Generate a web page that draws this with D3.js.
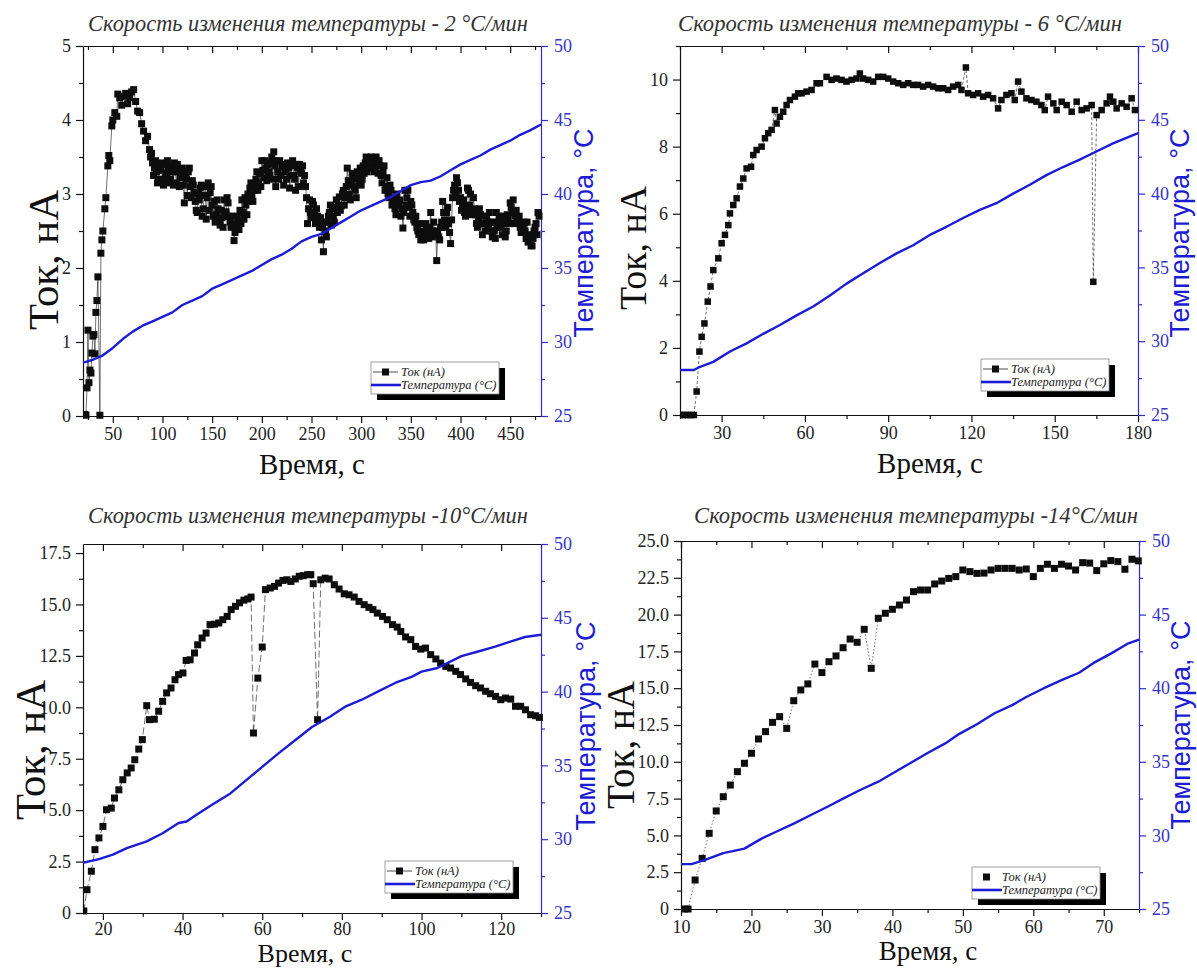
<!DOCTYPE html>
<html>
<head>
<meta charset="utf-8">
<script src="https://cdn.jsdelivr.net/npm/d3@7"></script>
<style>
  body { margin: 0; background: #fff; }
  .axis text { font-size: 18px; fill: #222; }
  .axis path, .axis line { stroke: #111; stroke-width: 1.2; }
  .axisR path, .axisR line { stroke: #2d2dcf; }
  .axisR text { fill: #3535c8; }
  .title { font-style: italic; fill: #333; }
  .legend text { font-style: italic; font-size: 12.5px; fill: #222; }
</style>
</head>
<body>
<svg id="fig" width="1197" height="968"></svg>
<script>
// ---- panel 1 : 2 °C/мин ----
const p1Current = [[22,0.02],[23,0.01],[24,0.38],[25,1.16],[26,0.45],[27,0.62],[28,0.58],[29,0.85],[30,1.08],[31,1.1],[32,0.84],[33,1.4],[34,1.56],[35,1.88],[37,0.01],[38,2.2],[39,2.38],[40,2.5],[42,2.8],[43,2.95],[45,3.38],[46,3.52],[47,3.45],[49,3.92],[50,4.0],[52,4.1],[54,4.05],[55,4.35],[57,4.3],[59,4.2],[61,4.32],[63,4.36],[65,4.22],[67,4.3],[69,4.38],[71,4.41],[73,4.25],[75,4.12],[77,4.1],[79,3.95],[81,3.85],[83,3.72],[85,3.78],[87,3.6],[88,3.5],[90,3.42],[92,3.35],[94,3.3],[96,3.2],[98,3.32],[100,3.18],[102,3.4],[104,3.28],[106,3.36],[108,3.2],[110,3.3],[112,3.42],[114,3.15],[116,3.32],[118,3.22],[120,3.35],[122,2.88],[124,3.2],[126,3.3],[128,3.1],[130,3.18],[132,3.02],[134,2.78],[136,3.0],[138,3.08],[140,2.7],[142,2.98],[144,2.66],[146,3.15],[148,3.02],[150,2.85],[152,2.9],[154,2.72],[156,2.8],[158,2.58],[160,2.68],[162,2.92],[164,2.76],[166,2.88],[168,2.62],[170,2.7],[172,2.37],[174,2.55],[176,2.62],[178,2.78],[180,2.92],[182,2.66],[184,2.85],[186,3.0],[188,3.08],[190,2.98],[192,3.12],[194,3.2],[196,3.05],[198,3.28],[200,3.45],[202,3.22],[204,3.35],[206,3.4],[208,3.25],[210,3.5],[212,3.57],[214,3.1],[216,3.3],[218,3.45],[220,3.38],[222,3.12],[224,3.3],[226,3.42],[228,3.08],[230,3.38],[232,3.25],[234,3.05],[236,3.35],[238,3.4],[240,3.28],[242,3.15],[244,3.1],[246,2.6],[248,2.92],[250,2.68],[252,2.85],[254,2.6],[256,2.7],[258,2.55],[260,2.38],[262,2.22],[264,2.5],[266,2.62],[268,2.75],[270,2.58],[272,2.7],[274,2.82],[276,2.75],[278,2.96],[280,2.84],[282,3.05],[284,2.95],[286,3.35],[288,3.0],[290,3.12],[292,3.2],[294,3.05],[296,3.3],[298,3.15],[300,3.12],[302,3.38],[304,3.42],[306,3.3],[308,3.48],[310,3.5],[312,3.42],[314,3.35],[316,3.4],[318,3.45],[320,3.25],[322,3.3],[324,3.05],[326,3.22],[328,2.95],[330,3.05],[332,2.9],[334,2.8],[336,3.0],[338,2.85],[340,2.7],[342,2.54],[344,3.05],[346,2.95],[348,2.82],[350,2.9],[352,2.75],[354,2.62],[356,2.55],[358,2.45],[360,2.38],[362,2.5],[364,2.45],[366,2.52],[368,2.4],[370,2.75],[372,2.5],[374,2.45],[376,2.1],[378,2.42],[380,2.55],[382,2.9],[384,2.65],[386,2.75],[388,2.6],[390,2.33],[392,2.95],[394,3.12],[396,3.22],[398,3.05],[400,2.95],[402,2.85],[404,2.75],[406,2.8],[408,3.05],[410,3.0],[412,2.72],[414,2.8],[416,2.6],[418,2.68],[420,2.72],[422,2.45],[424,2.6],[426,2.7],[428,2.55],[430,2.62],[432,2.42],[434,2.5],[436,2.75],[438,2.62],[440,2.55],[442,2.45],[444,2.6],[446,2.5],[448,2.66],[450,2.88],[452,2.75],[454,2.6],[456,2.78],[458,2.65],[460,2.55],[462,2.5],[464,2.62],[466,2.4],[468,2.35],[470,2.45],[472,2.3],[474,2.5],[476,2.6],[478,2.75]];
// odd-second readings inside the dense cloud
const p1CurrentOdd = [[89,3.55],[91,3.25],[93,3.45],[95,3.15],[97,3.38],[99,3.42],[101,3.12],[103,3.22],[105,3.45],[107,3.15],[109,3.38],[111,3.12],[113,3.3],[115,3.4],[117,3.1],[119,3.28],[121,3.12],[123,3.25],[125,2.98],[127,3.35],[129,2.95],[131,3.12],[133,2.9],[135,2.75],[137,2.92],[139,3.12],[141,2.8],[143,3.1],[145,2.95],[147,2.78],[149,3.1],[151,2.7],[153,2.62],[155,2.92],[157,2.66],[159,2.78],[161,2.55],[163,2.7],[165,2.95],[167,2.7],[169,2.55],[171,2.6],[173,2.48],[175,2.7],[177,2.52],[179,2.6],[181,2.75],[183,2.95],[185,2.72],[187,2.9],[189,3.15],[191,2.9],[193,3.05],[195,3.3],[197,3.15],[199,3.1],[201,3.32],[203,3.45],[205,3.18],[207,3.3],[209,3.42],[211,3.2],[213,3.38],[215,3.45],[217,3.2],[219,3.25],[221,3.4],[223,3.35],[225,3.2],[227,3.35],[229,3.25],[231,3.45],[233,3.2],[235,3.4],[237,3.1],[239,3.3],[241,3.38],[243,3.25],[245,2.95],[247,2.8],[249,2.75],[251,2.9],[253,2.72],[255,2.8],[257,2.62],[259,2.68],[261,2.55],[263,2.62],[265,2.42],[267,2.7],[269,2.85],[271,2.8],[273,2.62],[275,2.92],[277,2.85],[279,2.78],[281,3.0],[283,2.85],[285,3.1],[287,3.18],[289,2.92],[291,3.28],[293,3.1],[295,2.95],[297,3.22],[299,3.35],[301,3.2],[303,3.28],[305,3.5],[307,3.38],[309,3.35],[311,3.46],[313,3.3],[315,3.5],[317,3.28],[319,3.38],[321,3.15],[323,3.38],[325,3.1],[327,3.0],[329,3.12],[331,2.85],[333,2.95],[335,2.72],[337,2.88],[339,2.92],[341,2.8],[343,2.75],[345,2.85],[347,3.05],[349,2.7],[351,2.85],[353,2.65],[355,2.7],[357,2.5],[359,2.6],[361,2.45],[363,2.38],[365,2.6],[367,2.45],[369,2.55],[371,2.42],[373,2.62],[375,2.48],[377,2.5],[379,2.38],[381,2.62],[383,2.75],[385,2.55],[387,2.82],[389,2.48],[391,2.65],[393,3.05],[395,2.98],[397,3.15],[399,2.9],[401,2.78],[403,2.92],[405,2.7],[407,3.08],[409,2.85],[411,2.78],[413,2.95],[415,2.72],[417,2.55],[419,2.8],[421,2.6],[423,2.7],[425,2.5],[427,2.6],[429,2.75],[431,2.5],[433,2.62],[435,2.4],[437,2.55],[439,2.7],[441,2.62],[443,2.7],[445,2.42],[447,2.72],[449,2.6],[451,2.82],[453,2.92],[455,2.7],[457,2.62],[459,2.7],[461,2.48],[463,2.58],[465,2.5],[467,2.62],[469,2.42],[471,2.3],[473,2.4],[475,2.55],[477,2.45],[479,2.7]];
const p1Temp = [[20,28.6],[30,28.8],[40,29.1],[50,29.6],[60,30.2],[70,30.7],[80,31.1],[90,31.4],[100,31.7],[110,32.0],[120,32.5],[130,32.8],[140,33.1],[150,33.6],[160,33.9],[170,34.2],[180,34.5],[190,34.8],[200,35.2],[210,35.6],[220,35.9],[230,36.3],[240,36.8],[250,37.1],[260,37.3],[270,37.7],[280,38.1],[290,38.5],[300,38.9],[310,39.2],[320,39.5],[330,39.8],[340,40.2],[350,40.6],[360,40.8],[370,40.9],[380,41.2],[390,41.6],[400,42.0],[410,42.3],[420,42.6],[430,43.0],[440,43.3],[450,43.6],[460,44.0],[470,44.3],[481,44.7]];
const p1XTicks = [50, 100, 150, 200, 250, 300, 350, 400, 450];
const p1YTicks = [0, 1, 2, 3, 4, 5];

// ---- panel 2 : 6 °C/мин ----
const p2Current = [[15,0],[16,0],[17,0],[18,0],[19,0],[20,0],[21,0.7],[22,1.89],[22.8,2.33],[23.8,2.73],[25,3.38],[26,3.83],[27,4.32],[28.8,4.67],[30,5.12],[31.2,5.37],[32.4,5.66],[33,6.01],[34.2,6.26],[35.4,6.46],[36.6,6.81],[37.8,7.05],[39,7.35],[40.6,7.4],[41.4,7.75],[42.6,7.9],[44.4,8.0],[45.6,8.25],[46.8,8.4],[48,8.5],[49.2,9.09],[49.8,8.69],[51,8.89],[52.2,9.04],[53.4,9.24],[54.6,9.39],[56.4,9.49],[57.6,9.59],[58.8,9.59],[60.6,9.64],[62.4,9.69],[64.2,9.89],[65.4,9.89],[67.8,10.08],[69.6,9.99],[71.4,10.03],[73.2,9.99],[75,9.94],[76.8,9.99],[78.6,10.03],[79.8,10.18],[81,10.03],[82.8,9.99],[84.6,9.94],[86.4,10.08],[88.2,10.08],[90,10.03],[91.8,9.94],[93.6,9.89],[95.4,9.84],[97.2,9.89],[99,9.84],[100.8,9.84],[102.6,9.79],[104.4,9.84],[106.2,9.79],[108,9.74],[109.8,9.74],[111.6,9.69],[113.4,9.79],[115.2,9.84],[116.4,9.69],[118,10.36],[118.8,9.59],[120.6,9.54],[122.4,9.59],[124.2,9.49],[126,9.54],[127.8,9.44],[129.6,9.14],[130.8,9.39],[132.6,9.54],[134.4,9.59],[135.6,9.39],[136.8,9.94],[138,9.64],[139.8,9.44],[141.6,9.39],[143.4,9.34],[145.2,9.24],[146.4,9.09],[147.6,9.49],[149.5,9.29],[150.7,9.09],[152.5,9.34],[154.3,9.24],[156.1,9.04],[157.9,9.34],[159.7,9.09],[161.5,9.14],[163.3,9.24],[163.9,3.97],[165.1,8.94],[166.9,9.09],[168.7,9.29],[169.9,9.49],[171.1,9.34],[172.3,9.14],[174.1,9.29],[175.9,9.19],[177.7,9.44],[178.9,9.09]];
const p2Temp = [[15,28.05],[20,28.05],[22,28.25],[27,28.6],[33,29.3],[39,29.85],[45,30.5],[51,31.1],[57,31.75],[63,32.35],[69,33.1],[75,33.9],[81,34.6],[87,35.3],[93,35.95],[99,36.5],[105,37.2],[111,37.75],[117,38.35],[123,38.9],[129,39.35],[135,40.0],[141,40.6],[147,41.25],[153,41.8],[159,42.3],[165,42.85],[171,43.4],[180,44.1]];
const p2XTicks = [30, 60, 90, 120, 150, 180];
const p2YTicks = [0, 2, 4, 6, 8, 10];

// ---- panel 3 : 10 °C/мин ----
const p3Current = [[15.2,0.1],[16,1.13],[17.1,2.03],[18,3.08],[19,3.65],[20,4.21],[20.9,5.02],[22.1,5.1],[22.9,5.59],[24,5.99],[25,6.48],[26.1,6.81],[27.1,7.05],[28,7.45],[29,7.97],[29.9,8.43],[31,10.08],[31.7,9.4],[32.9,9.42],[34,9.81],[35,10.29],[36,10.7],[37.1,10.94],[38.1,11.34],[39,11.59],[40.1,11.67],[40.9,12.28],[41.9,12.31],[43,12.64],[43.8,13.04],[44.9,13.37],[45.9,13.61],[46.9,14.02],[48,14.04],[49.1,14.1],[50.1,14.26],[51.2,14.42],[52.2,14.75],[53.3,14.91],[54.3,15.08],[55.4,15.21],[56.4,15.27],[57.2,15.36],[57.8,8.75],[58.9,11.42],[60,12.93],[60.8,15.72],[62,15.8],[63.1,15.88],[64.1,16.04],[65.2,16.17],[66.2,16.2],[67.2,16.12],[68.3,16.24],[69.3,16.37],[70.3,16.4],[71.4,16.45],[72.2,16.45],[72.8,16.01],[73.9,9.4],[74.7,16.2],[75.8,16.28],[76.8,16.24],[78.1,15.96],[79.3,15.75],[80.6,15.52],[81.8,15.47],[83.1,15.36],[84.3,15.15],[85.6,14.99],[86.8,14.86],[87.8,14.75],[88.9,14.58],[90.2,14.42],[91.4,14.26],[92.7,14.02],[93.9,13.9],[94.8,13.69],[96,13.42],[97.3,13.29],[98.5,12.96],[99.8,12.83],[101,12.88],[102.3,12.56],[103.6,12.35],[104.8,12.15],[106.1,11.99],[107.3,11.91],[108.6,11.75],[109.8,11.59],[111.1,11.38],[112.3,11.21],[113.6,11.05],[114.8,10.94],[116.1,10.78],[117.3,10.66],[118.6,10.53],[119.9,10.37],[121.1,10.45],[122.4,10.4],[123.6,10.05],[124.9,10.05],[126.1,9.88],[127.4,9.64],[128.6,9.59],[129.6,9.51]];
const p3Temp = [[15,28.4],[19,28.65],[22.5,28.95],[26,29.4],[31,29.85],[35,30.4],[39,31.1],[41,31.2],[43.5,31.65],[47.5,32.35],[52,33.1],[56,34.0],[60,34.9],[64,35.8],[68.5,36.75],[72.5,37.6],[77,38.3],[81,39.0],[85,39.45],[89,40.0],[93.5,40.6],[97.5,41.0],[100,41.35],[104,41.6],[110,42.4],[114,42.7],[118.5,43.05],[122.5,43.4],[126,43.7],[130,43.85]];
const p3XTicks = [20, 40, 60, 80, 100, 120];
const p3YTicks = [0, 2.5, 5, 7.5, 10, 12.5, 15, 17.5];

// ---- panel 4 : 14 °C/мин ----
const p4Current = [[10.5,0],[11,0],[12,1.97],[13,3.44],[14,5.14],[15,6.66],[16,7.63],[17,8.42],[18,9.33],[19,9.9],[20,10.58],[21,11.55],[22,12.05],[23,12.68],[24,13.07],[25,12.27],[26,14.15],[27,14.88],[28,15.29],[29,16.64],[30,16.06],[31,16.8],[32,17.19],[33,17.75],[34,18.34],[35,18.12],[36,19.0],[37,16.35],[38,19.75],[39,20.09],[40,20.36],[41,20.65],[42,20.99],[43,21.56],[44,21.67],[45,21.67],[46,22.08],[47,22.28],[48,22.46],[49,22.58],[50,23.03],[51,22.92],[52,22.8],[53,22.82],[54,23.03],[55,23.14],[56,23.14],[57,23.14],[58,23.03],[59,23.1],[60,22.58],[61,23.14],[62,23.42],[63,23.14],[64,23.42],[65,23.3],[66,23.03],[67,23.53],[68,23.5],[69,22.99],[70,23.45],[71,23.67],[72,23.6],[73,23.08],[74,23.76],[74.9,23.65]];
const p4Temp = [[10,28.05],[11.5,28.05],[13.5,28.35],[16,28.8],[19,29.1],[21.5,29.8],[23.5,30.25],[26,30.8],[28.5,31.4],[31,32.0],[33,32.5],[35.5,33.1],[38,33.65],[40,34.2],[42.5,34.9],[45,35.6],[47.5,36.25],[49.5,36.9],[52,37.55],[54.5,38.3],[57,38.85],[59,39.4],[61.5,40.0],[64,40.55],[66.5,41.05],[68.5,41.7],[71,42.35],[73.5,43.05],[75,43.3]];
const p4XTicks = [10, 20, 30, 40, 50, 60, 70];
const p4YTicks = [0, 2.5, 5, 7.5, 10, 12.5, 15, 17.5, 20, 22.5, 25];

const tempTicks = [25, 30, 35, 40, 45, 50];
const titles = [
  "Скорость изменения температуры - 2 °C/мин",
  "Скорость изменения температуры - 6 °C/мин",
  "Скорость изменения температуры -10°C/мин",
  "Скорость изменения температуры -14°C/мин"
];
const legendLabels = ["Ток (нА)", "Температура (°C)"];

const SERIF = "'Liberation Serif', 'Times New Roman', serif";
const SANS = "'Liberation Sans', Arial, sans-serif";
const BLUE = "#1c1cd4";
const svg = d3.select("#fig");
svg.append("rect").attr("width", 1197).attr("height", 968).attr("fill", "#fff");

const fmt1 = d => d === 0 ? "0" : d3.format(".1f")(d);

const panels = [
  { id: 1, left: 83, right: 541, top: 46, bottom: 416, xDomain: [20, 481], xTicks: p1XTicks, xMinorStep: 25,
    yDomain: [0, 5], yTicks: p1YTicks, yMinorStep: 0.5, yFmt: d3.format("d"),
    current: d3.sort(p1Current.concat(p1CurrentOdd), d => d[0]), temp: p1Temp,
    title: titles[0], titleX: 308, titleY: 31, titleW: 440,
    marker: 7, dash: null, legend: { x: 371, y: 362 }, legendLine: true, xPad: 4,
    yLab: { x: 43, y: 260, len: 140 }, xLab: { x: 312, y: 474, size: 29 }, tLab: { x: 584, y: 233 } },
  { id: 2, left: 680, right: 1138, top: 46, bottom: 415, xDomain: [15, 180], xTicks: p2XTicks, xMinorStep: 15,
    yDomain: [0, 11], yTicks: p2YTicks, yMinorStep: 1, yFmt: d3.format("d"),
    current: p2Current, temp: p2Temp, title: titles[1], titleX: 900, titleY: 31, titleW: 444,
    marker: 6.5, dash: "3,2", legend: { x: 981, y: 359 }, legendLine: true, xPad: 4,
    yLab: { x: 633, y: 248, len: 124 }, xLab: { x: 930, y: 473, size: 29 }, tLab: { x: 1180, y: 233 },
    ghost: { x: 600, y: 213 } },
  { id: 3, left: 83, right: 541, top: 544, bottom: 913, xDomain: [15, 130], xTicks: p3XTicks, xMinorStep: 10,
    yDomain: [0, 17.94], yTicks: p3YTicks, yMinorStep: 1.25, yFmt: fmt1,
    current: p3Current, temp: p3Temp, title: titles[2], titleX: 308, titleY: 523, titleW: 440,
    marker: 7, dash: "7,3", legend: { x: 385, y: 861 }, legendLine: true, xPad: 2,
    yLab: { x: 30, y: 750, len: 140 }, xLab: { x: 305, y: 962, size: 26 }, tLab: { x: 586, y: 726 } },
  { id: 4, left: 681, right: 1139, top: 541, bottom: 909, xDomain: [10, 75], xTicks: p4XTicks, xMinorStep: 5,
    yDomain: [0, 25], yTicks: p4YTicks, yMinorStep: 1.25, yFmt: fmt1,
    current: p4Current, temp: p4Temp, title: titles[3], titleX: 916, titleY: 523, titleW: 444,
    marker: 7, dash: "1.5,2", legend: { x: 972, y: 867 }, legendLine: false, xPad: 4,
    yLab: { x: 620, y: 745, len: 128 }, xLab: { x: 928, y: 960, size: 27 }, tLab: { x: 1181, y: 725 },
    ghost: { x: 600, y: 700 } }
];

function minorTicks(domain, step, majors) {
  const out = [];
  const start = Math.ceil(domain[0] / step) * step;
  for (let v = start; v <= domain[1] + 1e-9; v += step) {
    const r = Math.round(v * 1000) / 1000;
    if (!majors.some(m => Math.abs(m - r) < 1e-6)) out.push(r);
  }
  return out;
}

function fitWidth(sel, target) {
  const len = sel.node().getComputedTextLength();
  const fs = parseFloat(sel.attr("font-size"));
  sel.attr("font-size", (fs * target / len).toFixed(2));
}

const serifTicks = a => a.selectAll("text").style("font-family", SERIF);

function drawPanel(cfg) {
  const g = svg.append("g").attr("class", "panel" + cfg.id);
  const x = d3.scaleLinear().domain(cfg.xDomain).range([cfg.left, cfg.right]);
  const y = d3.scaleLinear().domain(cfg.yDomain).range([cfg.bottom, cfg.top]);
  const yT = d3.scaleLinear().domain([25, 50]).range([cfg.bottom, cfg.top]);

  const clipId = "clip" + cfg.id;
  g.append("clipPath").attr("id", clipId).append("rect")
    .attr("x", cfg.left).attr("y", cfg.top - 4)
    .attr("width", cfg.right - cfg.left + 4).attr("height", cfg.bottom - cfg.top + 8);

  const xMinor = minorTicks(cfg.xDomain, cfg.xMinorStep, cfg.xTicks);
  const yMinor = minorTicks(cfg.yDomain, cfg.yMinorStep, cfg.yTicks);
  const tMinor = minorTicks([25, 50], 2.5, tempTicks);

  // bottom axis
  g.append("g").attr("class", "axis").attr("transform", `translate(0,${cfg.bottom})`)
    .call(d3.axisBottom(x).tickValues(xMinor).tickSize(4).tickFormat(""))
    .call(a => a.select(".domain").remove());
  g.append("g").attr("class", "axis").attr("transform", `translate(0,${cfg.bottom})`)
    .call(d3.axisBottom(x).tickValues(cfg.xTicks).tickSize(7).tickSizeOuter(0).tickPadding(cfg.xPad))
    .call(serifTicks);

  // top frame with inward ticks
  g.append("g").attr("class", "axis").attr("transform", `translate(0,${cfg.top})`)
    .call(d3.axisTop(x).tickValues(xMinor).tickSize(-4).tickFormat(""))
    .call(a => a.select(".domain").remove());
  g.append("g").attr("class", "axis").attr("transform", `translate(0,${cfg.top})`)
    .call(d3.axisTop(x).tickValues(cfg.xTicks).tickSize(-7).tickSizeOuter(0).tickFormat(""));

  // left axis
  g.append("g").attr("class", "axis").attr("transform", `translate(${cfg.left},0)`)
    .call(d3.axisLeft(y).tickValues(yMinor).tickSize(4).tickFormat(""))
    .call(a => a.select(".domain").remove());
  g.append("g").attr("class", "axis").attr("transform", `translate(${cfg.left},0)`)
    .call(d3.axisLeft(y).tickValues(cfg.yTicks).tickSize(7).tickSizeOuter(0).tickPadding(5).tickFormat(cfg.yFmt))
    .call(serifTicks);

  // right (temperature) axis
  g.append("g").attr("class", "axis axisR").attr("transform", `translate(${cfg.right},0)`)
    .call(d3.axisRight(yT).tickValues(tMinor).tickSize(4).tickFormat(""))
    .call(a => a.select(".domain").remove());
  g.append("g").attr("class", "axis axisR").attr("transform", `translate(${cfg.right},0)`)
    .call(d3.axisRight(yT).tickValues(tempTicks).tickSize(7).tickSizeOuter(0).tickPadding(6))
    .call(serifTicks);

  // data
  const plot = g.append("g").attr("clip-path", `url(#${clipId})`);
  const curLine = d3.line().x(d => x(d[0])).y(d => y(d[1]));
  plot.append("path").datum(cfg.current).attr("d", curLine)
    .attr("fill", "none").attr("stroke", "#333").attr("stroke-width", 0.7)
    .attr("stroke-dasharray", cfg.dash);
  const m = cfg.marker;
  plot.append("g").selectAll("rect").data(cfg.current).join("rect")
    .attr("x", d => x(d[0]) - m / 2).attr("y", d => y(d[1]) - m / 2)
    .attr("width", m).attr("height", m).attr("fill", "#0d0d0d");
  const tLine = d3.line().x(d => x(d[0])).y(d => yT(d[1]));
  plot.append("path").datum(cfg.temp).attr("d", tLine)
    .attr("fill", "none").attr("stroke", BLUE).attr("stroke-width", 2.4)
    .attr("stroke-linejoin", "round");

  // title
  const t = g.append("text").attr("class", "title")
    .attr("x", cfg.titleX).attr("y", cfg.titleY).attr("text-anchor", "middle")
    .style("font-family", SERIF).attr("font-size", 20).text(cfg.title);
  fitWidth(t, cfg.titleW);

  // axis labels
  const yl = g.append("text")
    .attr("transform", `translate(${cfg.yLab.x},${cfg.yLab.y}) rotate(-90)`)
    .attr("text-anchor", "middle").attr("dominant-baseline", "central")
    .style("font-family", SERIF).attr("font-size", 34).attr("fill", "#111").text("Ток, нА");
  fitWidth(yl, cfg.yLab.len);

  g.append("text").attr("x", cfg.xLab.x).attr("y", cfg.xLab.y)
    .attr("text-anchor", "middle").style("font-family", SERIF)
    .attr("font-size", cfg.xLab.size).attr("fill", "#111")
    .text("Время, с");

  g.append("text")
    .attr("transform", `translate(${cfg.tLab.x},${cfg.tLab.y}) rotate(-90)`)
    .attr("text-anchor", "middle").attr("dominant-baseline", "central")
    .style("font-family", SANS)
    .attr("font-size", 27).attr("fill", BLUE).text("Температура, °C");

  // fragment of a hidden label peeking at the panel's left edge
  if (cfg.ghost) {
    const gid = "ghost" + cfg.id;
    g.append("clipPath").attr("id", gid).append("rect")
      .attr("x", 600).attr("y", cfg.top).attr("width", 14).attr("height", cfg.bottom - cfg.top);
    g.append("text").attr("clip-path", `url(#${gid})`)
      .attr("transform", `translate(${cfg.ghost.x},${cfg.ghost.y}) rotate(-90)`)
      .attr("text-anchor", "middle")
      .style("font-family", SANS)
      .attr("font-size", 27).attr("fill", BLUE).text("Температура, °C");
  }

  // legend
  const L = cfg.legend, lw = 128, lh = 32;
  const lg = g.append("g").attr("class", "legend");
  lg.append("rect").attr("x", L.x + 6).attr("y", L.y + 6).attr("width", lw).attr("height", lh).attr("fill", "#000");
  lg.append("rect").attr("x", L.x).attr("y", L.y).attr("width", lw).attr("height", lh)
    .attr("fill", "#fff").attr("stroke", "#888").attr("stroke-width", 0.8);
  const r1 = L.y + 10, r2 = L.y + 23;
  if (cfg.legendLine) {
    lg.append("line").attr("x1", L.x + 2).attr("x2", L.x + 27).attr("y1", r1).attr("y2", r1)
      .attr("stroke", "#222").attr("stroke-width", 0.8);
  }
  lg.append("rect").attr("x", L.x + 11).attr("y", r1 - 3.5).attr("width", 7).attr("height", 7).attr("fill", "#0d0d0d");
  lg.append("text").attr("x", L.x + 30).attr("y", r1 + 4).style("font-family", SERIF).text(legendLabels[0]);
  lg.append("line").attr("x1", L.x).attr("x2", L.x + 30).attr("y1", r2).attr("y2", r2)
    .attr("stroke", BLUE).attr("stroke-width", 2.6);
  lg.append("text").attr("x", L.x + 30).attr("y", r2 + 4).style("font-family", SERIF).text(legendLabels[1]);
}

panels.forEach(drawPanel);
</script>
</body>
</html>
